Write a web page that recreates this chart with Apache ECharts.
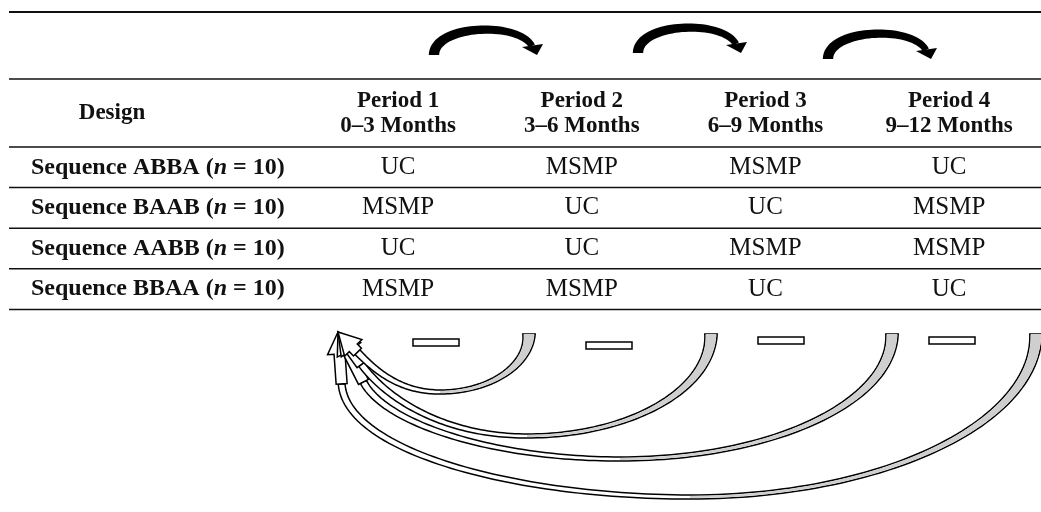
<!DOCTYPE html>
<html><head><meta charset="utf-8">
<script src="https://cdn.jsdelivr.net/npm/echarts@6/dist/echarts.min.js"></script>
<style>html,body{margin:0;padding:0;background:#fff}#c{width:1041px;height:512px}</style>
</head><body><div id="c"></div>
<script>
// ---- data ----
const periods = ['Period 1', 'Period 2', 'Period 3', 'Period 4'];
const periodMonths = ['0–3 Months', '3–6 Months', '6–9 Months', '9–12 Months'];
const sequences = ['ABBA', 'BAAB', 'AABB', 'BBAA'];
const groupSizes = [10, 10, 10, 10];
const seqABBA = ['UC', 'MSMP', 'MSMP', 'UC'];
const seqBAAB = ['MSMP', 'UC', 'UC', 'MSMP'];
const seqAABB = ['UC', 'UC', 'MSMP', 'MSMP'];
const seqBBAA = ['MSMP', 'MSMP', 'UC', 'UC'];
const designHeader = 'Design';

// ---- layout ----
const FONT = '"Liberation Serif", "Times New Roman", serif';
const HEAD_SIZE = 23, ROW_SIZE = 24, CELL_SIZE = 25;
const gridTop = 147, rowH = 40.6, gridLeft = 306.25, colW = 187.5;
const nRows = sequences.length;

const cellRows = [seqABBA, seqBAAB, seqAABB, seqBBAA];
const cellData = [];
cellRows.forEach((row, r) => row.forEach((v, c) => cellData.push({ name: v, value: [c, r] })));

// ---- geometry helpers for the decorative arrows ----
function bz(s, t) {
  const u = 1 - t, [p0, p1, p2, p3] = s;
  return [u*u*u*p0[0] + 3*u*u*t*p1[0] + 3*u*t*t*p2[0] + t*t*t*p3[0],
          u*u*u*p0[1] + 3*u*u*t*p1[1] + 3*u*t*t*p2[1] + t*t*t*p3[1]];
}
function bzd(s, t) {
  const u = 1 - t, [p0, p1, p2, p3] = s;
  return [3*u*u*(p1[0]-p0[0]) + 6*u*t*(p2[0]-p1[0]) + 3*t*t*(p3[0]-p2[0]),
          3*u*u*(p1[1]-p0[1]) + 6*u*t*(p2[1]-p1[1]) + 3*t*t*(p3[1]-p2[1])];
}
function band(segs, hw, N) {
  const L = [], R = [];
  segs.forEach((sg, i) => {
    for (let j = (i ? 1 : 0); j <= N; j++) {
      const t = j / N, p = bz(sg, t), d = bzd(sg, t);
      const len = Math.hypot(d[0], d[1]) || 1;
      const nx = -d[1] / len, ny = d[0] / len, w = hw(i + t);
      L.push([p[0] + nx*w, p[1] + ny*w]);
      R.push([p[0] - nx*w, p[1] - ny*w]);
    }
  });
  return L.concat(R.reverse());
}

const graphics = [];
let zc = 10;
// horizontal rules
function hline(y, w) {
  graphics.push({ type: 'line', silent: true, z: zc++, shape: { x1: 9, y1: y, x2: 1041, y2: y },
    style: { stroke: '#111', lineWidth: w } });
}
hline(12, 2);
hline(79, 1.5);
for (let i = 0; i <= nRows; i++) hline(gridTop + i * rowH, 1.5);

// "Design" header
graphics.push({ type: 'text', silent: true, z: zc++, x: 112, y: 113,
  style: { text: designHeader, fontFamily: FONT, fontWeight: 'bold', fontSize: HEAD_SIZE,
    fill: '#111', align: 'center', verticalAlign: 'middle' } });

// top curved arrows
const topArrows = [[434, 55], [638, 53], [828, 59]];
topArrows.forEach(([x, y]) => {
  const seg = [[x, y], [x, y - 30], [x + 84, y - 34], [x + 98, y - 9]];
  graphics.push({ type: 'polygon', silent: true, z: zc++,
    shape: { points: band([seg], s => 5.2 - 1.9 * s, 40) }, style: { fill: '#000' } });
  graphics.push({ type: 'polygon', silent: true, z: zc++,
    shape: { points: [[x + 88, y - 8], [x + 109, y - 11], [x + 103, y]] }, style: { fill: '#000' } });
});

// bottom curved arrows (all pointing to a common tip)
const tip = [338, 332], yTail = 334;
const bottomArrows = [
  { xT: 1036, xb: 690, yb: 497, a: 4, sl: 30 },
  { xT: 892, xb: 620, yb: 459, a: 27, sl: 34 },
  { xT: 711, xb: 527, yb: 436, a: 36, sl: 18 },
  { xT: 529, xb: 440, yb: 392, a: 44, sl: 6 }
];
bottomArrows.forEach(ar => {
  const a = ar.a * Math.PI / 180, v = [Math.sin(a), Math.cos(a)], n = [Math.cos(a), -Math.sin(a)];
  const hl = 22, hwh = 12, sw = 5.5;
  const B = [tip[0] + v[0]*hl, tip[1] + v[1]*hl];
  const S = [B[0] + v[0]*ar.sl, B[1] + v[1]*ar.sl];
  const c1 = (ar.yb - S[1]) * 0.6, c2 = (ar.xb - S[0]) * 0.5;
  const segA = [S, [S[0] + v[0]*c1, S[1] + v[1]*c1], [ar.xb - c2, ar.yb], [ar.xb, ar.yb]];
  const k = 0.5523, rx = ar.xT - ar.xb, ry = ar.yb - yTail;
  const segB = [[ar.xb, ar.yb], [ar.xb + k*rx, ar.yb], [ar.xT, yTail + k*ry], [ar.xT, yTail]];
  const hw = s => s < 1 ? 3.4 - 1.4 * s : 2 + 4.2 * Math.pow(s - 1, 2.2);
  graphics.push({ type: 'polygon', silent: true, z: zc++,
    shape: { points: band([segA, segB], hw, 60) },
    style: { fill: '#fff', stroke: '#000', lineWidth: 1.5 } });
  graphics.push({ type: 'polygon', silent: true, z: zc++,
    shape: { points: band([segB], t => Math.max(0, 2 + 4.2 * Math.pow(t, 2.2) - 0.9), 60) },
    style: { fill: '#cfcfcf' } });
  const head = [
    tip,
    [B[0] + n[0]*hwh, B[1] + n[1]*hwh],
    [B[0] + n[0]*sw, B[1] + n[1]*sw],
    [S[0] + n[0]*sw, S[1] + n[1]*sw],
    [S[0] - n[0]*sw, S[1] - n[1]*sw],
    [B[0] - n[0]*sw, B[1] - n[1]*sw],
    [B[0] - n[0]*hwh, B[1] - n[1]*hwh]
  ];
  graphics.push({ type: 'polygon', silent: true, z: zc++, shape: { points: head },
    style: { fill: '#fff', stroke: '#000', lineWidth: 1.5 } });
});

// minus signs
[[413, 339], [586, 342], [758, 337], [929, 337]].forEach(([x, y]) => {
  graphics.push({ type: 'rect', silent: true, z: zc++, shape: { x: x, y: y, width: 46, height: 7 },
    style: { fill: '#fff', stroke: '#000', lineWidth: 1.5 } });
});

const chart = echarts.init(document.getElementById('c'), null, { renderer: 'canvas' });
chart.setOption({
  animation: false,
  backgroundColor: '#fff',
  grid: { left: gridLeft, top: gridTop, width: colW * periods.length, height: rowH * nRows },
  xAxis: {
    type: 'category', data: periods, position: 'top',
    axisLine: { show: false }, axisTick: { show: false }, splitLine: { show: false },
    axisLabel: {
      margin: 8.5, interval: 0,
      formatter: (v, i) => '{h|' + v + '}\n{h|' + periodMonths[i] + '}',
      rich: { h: { fontFamily: FONT, fontWeight: 'bold', fontSize: HEAD_SIZE, lineHeight: 25, color: '#111' } }
    }
  },
  yAxis: {
    type: 'category', data: sequences, inverse: true,
    axisLine: { show: false }, axisTick: { show: false }, splitLine: { show: false },
    axisLabel: {
      align: 'left', margin: gridLeft - 31, interval: 0,
      formatter: (v, i) => '{b|Sequence ' + v + ' (}{i|n}{b| = ' + groupSizes[i] + ')}',
      rich: {
        b: { fontFamily: FONT, fontWeight: 'bold', fontSize: ROW_SIZE, color: '#111' },
        i: { fontFamily: FONT, fontWeight: 'bold', fontStyle: 'italic', fontSize: ROW_SIZE, color: '#111' }
      }
    }
  },
  series: [{
    type: 'scatter', data: cellData, symbol: 'rect', symbolSize: 1,
    itemStyle: { color: '#fff', opacity: 1 },
    label: { show: true, position: 'inside', formatter: p => p.name, opacity: 1,
      fontFamily: FONT, fontSize: CELL_SIZE, color: '#111', textBorderWidth: 0 }
  }],
  graphic: graphics
});
</script></body></html>
